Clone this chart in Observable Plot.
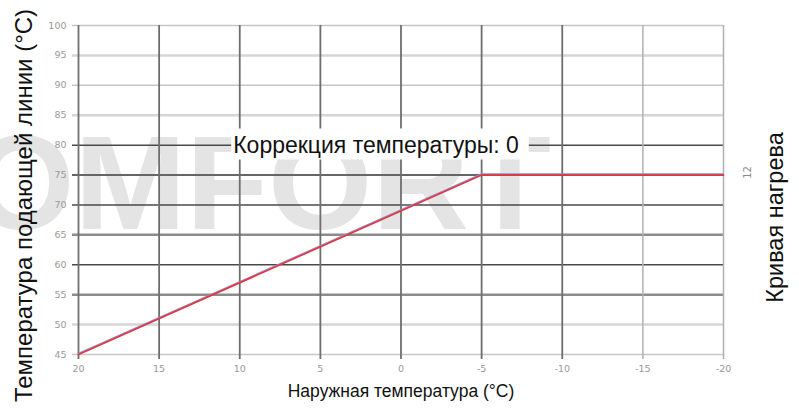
<!DOCTYPE html>
<html>
<head>
<meta charset="utf-8">
<script src="https://cdn.jsdelivr.net/npm/d3@7"></script>
<script src="https://cdn.jsdelivr.net/npm/@observablehq/plot@0.6"></script>
<style>
  html, body { margin: 0; padding: 0; background: #fff; }
  #chart { width: 799px; height: 410px; }
</style>
</head>
<body>
<div id="chart"></div>
<script>
// ---- data ----
const xTicks = [20, 15, 10, 5, 0, -5, -10, -15, -20];
const yTicks = [45, 50, 55, 60, 65, 70, 75, 80, 85, 90, 95, 100];
const outdoorTemp = [20, -5, -20];
const flowTemp = [45, 75, 75];
const xTitle = "Наружная температура (°C)";
const yTitle = "Температура подающей линии (°C)";
const rightTitle = "Кривая нагрева";
const curveNumber = "12";
const correctionText = "Коррекция температуры: 0";
const correctionLevel = 80;
const watermark = "COMFORT";

const points = outdoorTemp.map((x, i) => ({x, y: flowTemp[i]}));

// gridline groups (styling only)
const yDark = yTicks.filter(v => [80, 70, 60].includes(v));
const y75 = yTicks.filter(v => v === 75);
const yMid = yTicks.filter(v => [65, 55].includes(v));
const yLightWide = yTicks.filter(v => [95, 85, 50].includes(v));
const yLight = yTicks.filter(v => [100, 90, 45].includes(v));
const xDark = xTicks.filter(v => v >= -10);
const xLight = xTicks.filter(v => v < -10);

const titleFont = "Liberation Sans, Arial, sans-serif";
const tickFont = "DejaVu Sans, Verdana, sans-serif";

const chart = Plot.plot({
  width: 799,
  height: 410,
  marginLeft: 78,
  marginRight: 76,
  marginTop: 25,
  marginBottom: 56,
  x: {domain: [20, -20]},
  y: {domain: [45, 100]},
  style: {background: "transparent", fontFamily: titleFont, overflow: "hidden"},
  marks: [
    Plot.text([watermark], {text: d => d, frameAnchor: "left", textAnchor: "start", dx: -205, dy: -4,
      fontSize: 134, fontWeight: "bold", fill: "#e4e4e4", fontFamily: titleFont, letterSpacing: 1}),
    Plot.ruleY(yLight, {y: d => d, stroke: "#c6c6c6", strokeWidth: 1.5, insetLeft: -6}),
    Plot.ruleY(yLightWide, {y: d => d, stroke: "#d6d6d6", strokeWidth: 2.5, insetLeft: -6}),
    Plot.ruleY(yMid, {y: d => d, stroke: "#8c8c8c", strokeWidth: 2.5, insetLeft: -6}),
    Plot.ruleY(yDark, {y: d => d, stroke: "#4a4a4a", strokeWidth: 1.5, insetLeft: -6}),
    Plot.ruleY(y75, {y: d => d, stroke: "#666", strokeWidth: 2, insetLeft: -6}),
    Plot.ruleX(xDark, {x: d => d, stroke: "#6e6e6e", strokeWidth: 1.8, insetBottom: -5}),
    Plot.ruleX(xLight, {x: d => d, stroke: "#b0b0b0", strokeWidth: 1.5, insetBottom: -5}),
    Plot.axisY(yTicks, {label: null, tickSize: 0, tickPadding: 12, fontSize: 9.5, color: "#999", fontFamily: tickFont}),
    Plot.axisX(xTicks, {label: null, tickSize: 0, tickPadding: 11, fontSize: 9.5, color: "#999", fontFamily: tickFont,
      tickFormat: d => String(d)}),
    Plot.line(points, {x: "x", y: "y", stroke: "#8296d0", strokeWidth: 1.3, dy: -1.1}),
    Plot.line(points, {x: "x", y: "y", stroke: "#e8343f", strokeWidth: 1.7}),
    Plot.text([{y: correctionLevel, t: correctionText}], {y: "y", text: "t", frameAnchor: "middle", dx: -25,
      fontSize: 23, fill: "#111"}),
    Plot.text([xTitle], {text: d => d, frameAnchor: "bottom", dy: 42, fontSize: 17.5, fill: "#111"}),
    Plot.text([yTitle], {text: d => d, frameAnchor: "left", textAnchor: "middle", rotate: -90, dx: -54, dy: 15.5,
      fontSize: 24, fill: "#111"}),
    Plot.text([rightTitle], {text: d => d, frameAnchor: "right", textAnchor: "middle", rotate: -90, dx: 52, dy: 27.5,
      fontSize: 23.5, fill: "#111"}),
    Plot.text([curveNumber], {text: d => d, frameAnchor: "right", textAnchor: "middle", rotate: -90, dx: 24, dy: -17.5,
      fontSize: 10, fill: "#888", fontFamily: tickFont})
  ]
});
document.getElementById("chart").appendChild(chart);

// white box behind the correction label
chart.querySelectorAll("text").forEach(t => {
  if (t.textContent === correctionText) {
    const b = t.getBBox();
    const r = document.createElementNS("http://www.w3.org/2000/svg", "rect");
    r.setAttribute("x", b.x - 2);
    r.setAttribute("y", b.y - 3);
    r.setAttribute("width", b.width + 12);
    r.setAttribute("height", b.height + 5);
    r.setAttribute("fill", "#fff");
    const tr = t.getAttribute("transform");
    if (tr) r.setAttribute("transform", tr);
    t.parentNode.insertBefore(r, t);
  }
});
</script>
</body>
</html>
